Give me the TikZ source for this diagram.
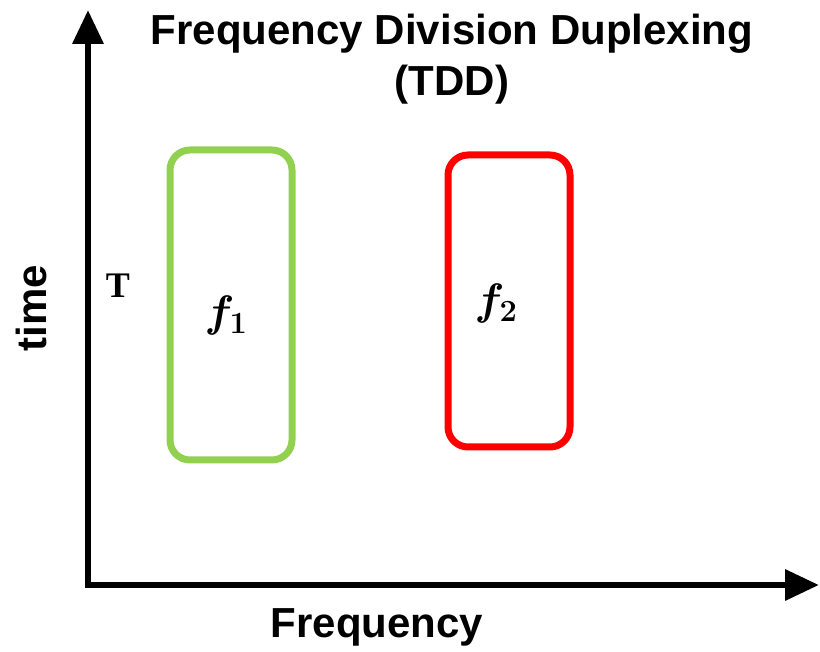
\documentclass[tikz,border=0pt]{standalone}
\usepackage{fix-cm}
\usepackage{amsmath}
\usepackage{bm}
\usepackage[no-math]{fontspec}
\setmainfont{Liberation Sans}
\newfontfamily\serifbold{Liberation Serif}
\usetikzlibrary{arrows.meta}
\begin{document}
\begin{tikzpicture}[x=1pt,y=-1pt,
  axis/.style={line width=6.5pt,-{Triangle[length=34pt,width=30pt]}},
  band/.style={line width=7pt,rounded corners=20pt},
  ttl/.style={font=\fontsize{42}{51}\selectfont\bfseries,align=center},
  lbl/.style={font=\fontsize{42}{46}\selectfont\bfseries},
  fl/.style={font=\fontsize{44}{48}\selectfont}]
\useasboundingbox (0,0) rectangle (820,652);
\definecolor{bandgreen}{RGB}{146,208,80}
\coordinate (o) at (88,585);
\coordinate (ytop) at (88,10);
\coordinate (xend) at (819,585);
\draw[axis] (88,588) -- (ytop);
\draw[axis] (85,585) -- (xend);
\draw[band,draw=bandgreen] (170,150) rectangle (292,460);
\draw[band,draw=red] (448,155) rectangle (570,447);
\node[ttl] (title) at (452,59) {Frequency Division Duplexing\\(TDD)};
\node[lbl] (freq) at (377,627) {Frequency};
\node[lbl,rotate=90] (time) at (31,308) {time};
\node[font=\serifbold\bfseries\fontsize{36}{38}\selectfont] (T) at (118,286) {T};
\node[fl] (f1) at (226,316) {$\bm{f}_{\bm{1}}$};
\node[fl] (f2) at (496,304) {$\bm{f}_{\bm{2}}$};
\end{tikzpicture}
\end{document}
